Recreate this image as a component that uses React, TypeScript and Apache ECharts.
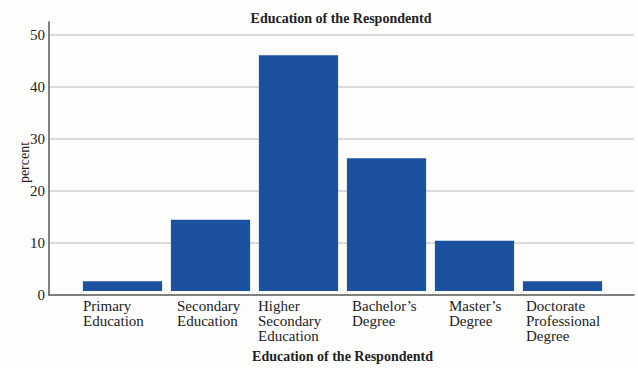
import React, { useEffect, useRef } from "react";
import * as echarts from "echarts";

const categories = [
  "Primary\nEducation",
  "Secondary\nEducation",
  "Higher\nSecondary\nEducation",
  "Bachelor’s\nDegree",
  "Master’s\nDegree",
  "Doctorate\nProfessional\nDegree",
];
const percents = [1.9, 13.9, 46.0, 25.9, 9.8, 1.9];
const yTicks = { min: 0, max: 52.5, interval: 10 };
const chartTitle = "Education of the Respondentd";
const xName = "Education of the Respondentd";
const yName = "percent";

const FONT = "'Liberation Serif', 'Times New Roman', serif";
const labelBoxWidths = [79, 67, 81, 69, 51, 73];

export default function App() {
  const ref = useRef<HTMLDivElement>(null);
  useEffect(() => {
    if (!ref.current) return;
    const chart = echarts.init(ref.current, null, { renderer: "svg" });
    const rich: Record<string, any> = {};
    labelBoxWidths.forEach((w, i) => {
      rich["c" + i] = {
        width: w,
        align: "left",
        fontFamily: FONT,
        fontSize: 15,
        lineHeight: 14.7,
        color: "#222",
      };
    });
    chart.setOption({
      animation: false,
      backgroundColor: "#fdfdfc",
      title: {
        text: chartTitle,
        left: 341,
        top: 11,
        textAlign: "center",
        padding: 0,
        textStyle: { fontFamily: FONT, fontSize: 14, fontWeight: "bold", color: "#222" },
      },
      grid: [
        { left: 49, right: 4, top: 22, bottom: 73 },
        { left: 78.5, right: 31.5, top: 22, bottom: 73 },
      ],
      xAxis: [
        {
          type: "category",
          gridIndex: 0,
          data: categories,
          axisLine: { show: true, lineStyle: { color: "#555", width: 1.5 } },
          axisTick: { show: false },
          axisLabel: { show: false },
        },
        {
          type: "category",
          gridIndex: 1,
          data: categories,
          axisLine: { show: false },
          axisTick: { show: false },
          axisLabel: {
            margin: 8,
            interval: 0,
            align: "center",
            verticalAlign: "top",
            formatter: (v: string, i: number) =>
              v
                .split("\n")
                .map((l) => `{c${i}|${l}}`)
                .join("\n"),
            rich,
          },
          name: xName,
          nameLocation: "middle",
          nameGap: 58,
          nameMoveOverlap: false,
          nameTextStyle: { fontFamily: FONT, fontSize: 14, fontWeight: "bold", color: "#222" },
        },
      ],
      yAxis: [
        {
          type: "value",
          gridIndex: 0,
          min: yTicks.min,
          max: yTicks.max,
          interval: yTicks.interval,
          axisLine: { show: true, lineStyle: { color: "#555", width: 1.5 } },
          axisTick: { show: false },
          axisLabel: {
            showMaxLabel: false,
            margin: 4,
            fontFamily: FONT,
            fontSize: 15,
            color: "#222",
          },
          splitLine: {
            show: true,
            showMinLine: false,
            showMaxLine: false,
            lineStyle: { color: "#cfcfcf", width: 1.5 },
          },
          name: yName,
          nameLocation: "middle",
          nameGap: 18,
          nameMoveOverlap: false,
          nameTextStyle: {
            fontFamily: FONT,
            fontSize: 14,
            color: "#222",
            padding: [0, 8, 0, 0],
          },
        },
        {
          type: "value",
          gridIndex: 1,
          min: yTicks.min,
          max: yTicks.max,
          interval: yTicks.interval,
          show: false,
          splitLine: { show: false },
        },
      ],
      series: [
        {
          type: "bar",
          xAxisIndex: 1,
          yAxisIndex: 1,
          data: percents,
          barCategoryGap: "10%",
          itemStyle: { color: "#1c51a0" },
        },
      ],
    });
    return () => chart.dispose();
  }, []);
  return <div ref={ref} style={{ width: 638, height: 368, position: "absolute", left: 0, top: 0 }} />;
}
